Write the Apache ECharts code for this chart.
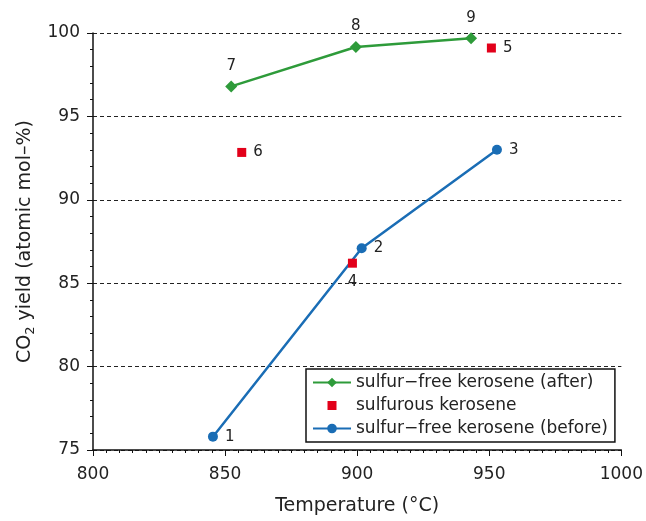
<!DOCTYPE html>
<html>
<head>
<meta charset="utf-8">
<script src="https://cdn.jsdelivr.net/npm/echarts@6/dist/echarts.min.js"></script>
<style>
  html, body { margin: 0; padding: 0; background: #fff; }
  #chart { width: 646px; height: 521px; }
</style>
</head>
<body>
<div id="chart"></div>
<script>
// Run numbers and measured CO2 yields
const afterRuns = ['7', '8', '9'];
const afterTemp = [852.3, 899.5, 943.1];
const afterYield = [96.8, 99.16, 99.68];

const sulfurousRuns = ['4', '5', '6'];
const sulfurousTemp = [898.2, 950.8, 856.3];
const sulfurousYield = [86.2, 99.1, 92.84];

const beforeRuns = ['1', '2', '3'];
const beforeTemp = [845.4, 901.7, 952.9];
const beforeYield = [75.8, 87.1, 93.0];

const xTicks = [800, 850, 900, 950, 1000];
const yTicks = [75, 80, 85, 90, 95, 100];

const FONT = '"DejaVu Sans", "Noto Sans", sans-serif';
const GREEN = '#2e9b3a', RED = '#e2001a', BLUE = '#1a6db5';

// where each run number sits relative to its marker
const labelSide = { '1': 'right', '2': 'right', '3': 'right', '4': 'bottom',
                    '5': 'right', '6': 'right', '7': 'top', '8': 'top', '9': 'top' };

function points(temps, yields, runs) {
  return temps.map((t, i) => ({
    value: [t, yields[i]],
    label: { position: labelSide[runs[i]], formatter: runs[i] }
  }));
}

const pointLabel = { show: true, color: '#222', fontSize: 15, fontFamily: FONT, distance: 7 };

// small centred square inside a 38x12 legend icon box
const squareIcon = 'path://M0,0L0,0M38,12L38,12M14.5,1.5h9v9h-9z';

const chart = echarts.init(document.getElementById('chart'), null, { renderer: 'canvas' });
chart.setOption({
  animation: false,
  backgroundColor: '#fff',
  grid: { left: 93, right: 23, top: 33, bottom: 69 },
  xAxis: {
    type: 'value', min: xTicks[0], max: xTicks[xTicks.length - 1], interval: 50,
    name: 'Temperature (°C)', nameLocation: 'middle', nameGap: 47,
    nameTextStyle: { fontSize: 19, color: '#222', fontFamily: FONT },
    axisLine: { lineStyle: { color: '#111', width: 1.5 } },
    axisTick: { show: true, length: 6, lineStyle: { color: '#111' } },
    minorTick: { show: true, splitNumber: 10, length: 3, lineStyle: { color: '#111' } },
    axisLabel: { fontSize: 17, color: '#222', fontFamily: FONT, margin: 16, formatter: v => String(v) },
    splitLine: { show: false }
  },
  yAxis: {
    type: 'value', min: yTicks[0], max: yTicks[yTicks.length - 1], interval: 5,
    name: '{t|CO}{s|2}{t| yield (atomic mol\u2013%)}', nameLocation: 'middle', nameGap: 56, nameRotate: 90,
    nameTextStyle: {
      color: '#222', fontFamily: FONT,
      rich: {
        t: { fontSize: 19, color: '#222', fontFamily: FONT },
        s: { fontSize: 13, color: '#222', fontFamily: FONT, verticalAlign: 'bottom', padding: [10, 0, 0, 0] }
      }
    },
    axisLine: { show: true, lineStyle: { color: '#111', width: 1.5 } },
    axisTick: { show: true, length: 6, lineStyle: { color: '#111' } },
    minorTick: { show: true, splitNumber: 5, length: 3, lineStyle: { color: '#111' } },
    axisLabel: { fontSize: 17, color: '#222', fontFamily: FONT, margin: 13, formatter: v => String(v) },
    splitLine: { show: true, lineStyle: { color: '#222', type: [4, 3], width: 1 } }
  },
  legend: {
    left: 306, top: 369, orient: 'vertical',
    backgroundColor: '#fff', borderColor: '#111', borderWidth: 1.5,
    padding: [5, 7, 5, 6], itemGap: 6, itemWidth: 38, itemHeight: 12,
    textStyle: { fontSize: 17, color: '#222', fontFamily: FONT },
    data: [
      { name: 'sulfur\u2212free kerosene (after)' },
      { name: 'sulfurous kerosene', icon: squareIcon },
      { name: 'sulfur\u2212free kerosene (before)' }
    ]
  },
  series: [
    {
      name: 'sulfur\u2212free kerosene (after)', type: 'line',
      data: points(afterTemp, afterYield, afterRuns),
      symbol: 'diamond', symbolSize: 12,
      lineStyle: { color: GREEN, width: 2.5 },
      itemStyle: { color: GREEN },
      label: pointLabel
    },
    {
      name: 'sulfurous kerosene', type: 'scatter', z: 4,
      data: points(sulfurousTemp, sulfurousYield, sulfurousRuns),
      symbol: 'rect', symbolSize: 9,
      itemStyle: { color: RED, opacity: 1 },
      label: pointLabel
    },
    {
      name: 'sulfur\u2212free kerosene (before)', type: 'line',
      data: points(beforeTemp, beforeYield, beforeRuns),
      symbol: 'circle', symbolSize: 10,
      lineStyle: { color: BLUE, width: 2.5 },
      itemStyle: { color: BLUE },
      label: pointLabel
    }
  ]
});
</script>
</body>
</html>
